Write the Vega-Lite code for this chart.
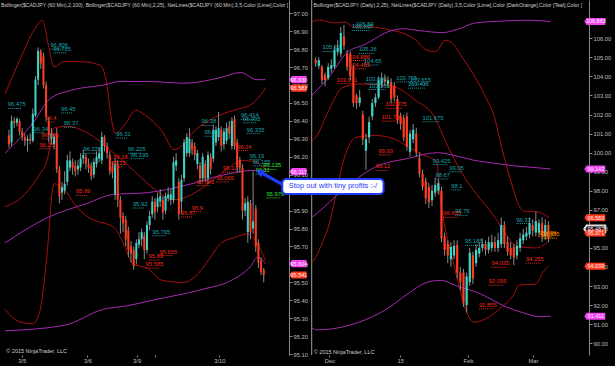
{
"$schema": "https://vega.github.io/schema/vega-lite/v6.json",
"background": "#000000",
"padding": {"left": 0, "top": 0, "right": 26, "bottom": 11},
"autosize": {"type": "none"},
"width": 589,
"height": 355,
"config": {
  "view": {"stroke": null, "fill": null},
  "axis": {"title": null, "grid": false, "labelFont": "Liberation Sans", "labelFontSize": 5.8, "labelColor": "#bebebe", "domainColor": "#8a8a8a", "tickColor": "#8a8a8a", "tickSize": 3, "labelPadding": 1, "labelOverlap": false, "labelFlush": false},
  "axisX": {"domain": false, "tickSize": 2, "labelPadding": 0},
  "text": {"font": "Liberation Sans"}
},
"datasets": {
  "L": [
    {"i":0,"o":96.32,"h":96.35,"l":96.25,"c":96.27},{"i":1,"o":96.28,"h":96.43,"l":96.26,"c":96.40},{"i":2,"o":96.40,"h":96.42,"l":96.36,"c":96.39},{"i":3,"o":96.39,"h":96.42,"l":96.37,"c":96.41},
    {"i":4,"o":96.40,"h":96.41,"l":96.32,"c":96.34},{"i":5,"o":96.34,"h":96.36,"l":96.29,"c":96.31},{"i":6,"o":96.31,"h":96.33,"l":96.26,"c":96.29},{"i":7,"o":96.29,"h":96.32,"l":96.23,"c":96.30},
    {"i":8,"o":96.30,"h":96.33,"l":96.27,"c":96.29},{"i":9,"o":96.29,"h":96.47,"l":96.28,"c":96.44},{"i":10,"o":96.43,"h":96.65,"l":96.42,"c":96.63},{"i":11,"o":96.63,"h":96.81,"l":96.60,"c":96.79},
    {"i":12,"o":96.79,"h":96.80,"l":96.69,"c":96.72},{"i":13,"o":96.76,"h":96.78,"l":96.58,"c":96.60},{"i":14,"o":96.60,"h":96.62,"l":96.40,"c":96.42},{"i":15,"o":96.40,"h":96.42,"l":96.28,"c":96.32},
    {"i":16,"o":96.30,"h":96.36,"l":96.27,"c":96.33},{"i":17,"o":96.27,"h":96.33,"l":96.24,"c":96.31},{"i":18,"o":96.33,"h":96.36,"l":96.11,"c":96.13},{"i":19,"o":96.13,"h":96.15,"l":95.94,"c":95.98},
    {"i":20,"o":96.00,"h":96.06,"l":95.96,"c":96.03},{"i":21,"o":96.01,"h":96.12,"l":95.99,"c":96.05},{"i":22,"o":96.06,"h":96.21,"l":96.04,"c":96.18},{"i":23,"o":96.14,"h":96.23,"l":96.12,"c":96.18},
    {"i":24,"o":96.17,"h":96.19,"l":96.10,"c":96.14},{"i":25,"o":96.15,"h":96.18,"l":96.09,"c":96.12},{"i":26,"o":96.13,"h":96.18,"l":96.10,"c":96.15},{"i":27,"o":96.14,"h":96.22,"l":96.12,"c":96.19},
    {"i":28,"o":96.19,"h":96.24,"l":96.16,"c":96.21},{"i":29,"o":96.20,"h":96.22,"l":96.13,"c":96.16},{"i":30,"o":96.16,"h":96.19,"l":96.11,"c":96.14},{"i":31,"o":96.15,"h":96.17,"l":96.07,"c":96.09},
    {"i":32,"o":96.10,"h":96.19,"l":96.08,"c":96.17},{"i":33,"o":96.16,"h":96.23,"l":96.14,"c":96.20},{"i":34,"o":96.19,"h":96.25,"l":96.17,"c":96.22},{"i":35,"o":96.18,"h":96.34,"l":96.16,"c":96.31},
    {"i":36,"o":96.31,"h":96.32,"l":96.23,"c":96.26},{"i":37,"o":96.26,"h":96.28,"l":96.19,"c":96.22},{"i":38,"o":96.21,"h":96.23,"l":96.10,"c":96.12},{"i":39,"o":96.14,"h":96.17,"l":96.08,"c":96.11},
    {"i":40,"o":95.99,"h":96.19,"l":95.96,"c":96.16},{"i":41,"o":96.16,"h":96.18,"l":95.92,"c":95.96},{"i":42,"o":95.96,"h":95.98,"l":95.77,"c":95.86},{"i":43,"o":95.87,"h":95.89,"l":95.78,"c":95.83},
    {"i":44,"o":95.85,"h":95.87,"l":95.70,"c":95.74},{"i":45,"o":95.79,"h":95.81,"l":95.64,"c":95.68},{"i":46,"o":95.70,"h":95.73,"l":95.61,"c":95.66},{"i":47,"o":95.68,"h":95.70,"l":95.57,"c":95.59},
    {"i":48,"o":95.63,"h":95.74,"l":95.60,"c":95.72},{"i":49,"o":95.71,"h":95.78,"l":95.69,"c":95.74},{"i":50,"o":95.74,"h":95.80,"l":95.70,"c":95.78},{"i":51,"o":95.76,"h":95.78,"l":95.63,"c":95.68},
    {"i":52,"o":95.68,"h":95.84,"l":95.66,"c":95.82},{"i":53,"o":95.82,"h":95.90,"l":95.79,"c":95.87},{"i":54,"o":95.88,"h":95.98,"l":95.86,"c":95.95},{"i":55,"o":95.95,"h":95.97,"l":95.85,"c":95.89},
    {"i":56,"o":95.92,"h":96.00,"l":95.89,"c":95.97},{"i":57,"o":95.95,"h":96.02,"l":95.92,"c":95.98},{"i":58,"o":95.96,"h":95.98,"l":95.85,"c":95.89},{"i":59,"o":95.90,"h":96.00,"l":95.88,"c":95.98},
    {"i":60,"o":95.97,"h":96.03,"l":95.95,"c":95.99},{"i":61,"o":95.96,"h":96.02,"l":95.93,"c":95.99},{"i":62,"o":95.96,"h":96.20,"l":95.94,"c":96.17},{"i":63,"o":96.15,"h":96.22,"l":96.12,"c":96.18},
    {"i":64,"o":96.06,"h":96.08,"l":95.85,"c":95.88},{"i":65,"o":95.95,"h":96.10,"l":95.88,"c":96.07},{"i":66,"o":96.08,"h":96.30,"l":96.06,"c":96.28},{"i":67,"o":96.22,"h":96.33,"l":96.20,"c":96.31},
    {"i":68,"o":96.22,"h":96.36,"l":96.20,"c":96.30},{"i":69,"o":96.28,"h":96.30,"l":96.21,"c":96.24},{"i":70,"o":96.26,"h":96.28,"l":96.18,"c":96.21},{"i":71,"o":96.16,"h":96.24,"l":96.13,"c":96.22},
    {"i":72,"o":96.15,"h":96.17,"l":96.05,"c":96.08},{"i":73,"o":96.08,"h":96.22,"l":96.06,"c":96.20},{"i":74,"o":96.16,"h":96.18,"l":96.06,"c":96.08},{"i":75,"o":96.08,"h":96.23,"l":96.05,"c":96.21},
    {"i":76,"o":96.20,"h":96.22,"l":96.10,"c":96.13},{"i":77,"o":96.19,"h":96.38,"l":96.17,"c":96.35},{"i":78,"o":96.28,"h":96.37,"l":96.26,"c":96.35},{"i":79,"o":96.31,"h":96.45,"l":96.29,"c":96.36},
    {"i":80,"o":96.35,"h":96.37,"l":96.23,"c":96.26},{"i":81,"o":96.27,"h":96.36,"l":96.24,"c":96.34},{"i":82,"o":96.29,"h":96.39,"l":96.27,"c":96.36},{"i":83,"o":96.37,"h":96.40,"l":96.30,"c":96.33},
    {"i":84,"o":96.26,"h":96.42,"l":96.24,"c":96.40},{"i":85,"o":96.41,"h":96.43,"l":96.24,"c":96.26},{"i":86,"o":96.28,"h":96.30,"l":96.11,"c":96.14},{"i":87,"o":96.18,"h":96.20,"l":96.11,"c":96.14},
    {"i":88,"o":96.14,"h":96.16,"l":95.85,"c":95.90},{"i":89,"o":95.90,"h":95.97,"l":95.87,"c":95.94},{"i":90,"o":95.78,"h":95.98,"l":95.72,"c":95.95},{"i":91,"o":95.94,"h":95.96,"l":95.74,"c":95.78},
    {"i":92,"o":95.80,"h":96.12,"l":95.77,"c":95.84},{"i":93,"o":95.91,"h":95.93,"l":95.67,"c":95.70},{"i":94,"o":95.72,"h":95.74,"l":95.58,"c":95.61},{"i":95,"o":95.62,"h":95.64,"l":95.54,"c":95.56},
    {"i":96,"o":95.57,"h":95.58,"l":95.50,"c":95.541}
  ],
  "R": [
    {"i":0,"o":104.86,"h":105.0,"l":104.5,"c":104.70},{"i":1,"o":104.55,"h":105.0,"l":104.4,"c":104.85},{"i":2,"o":104.51,"h":104.6,"l":103.6,"c":103.81},{"i":3,"o":104.07,"h":104.2,"l":103.5,"c":103.81},
    {"i":4,"o":103.90,"h":104.7,"l":103.8,"c":104.50},{"i":5,"o":104.40,"h":104.9,"l":104.2,"c":104.60},{"i":6,"o":104.50,"h":105.6,"l":104.4,"c":105.40},{"i":7,"o":105.30,"h":105.9,"l":105.1,"c":105.50},
    {"i":8,"o":105.20,"h":106.6,"l":105.0,"c":106.28},{"i":9,"o":106.10,"h":106.7,"l":105.4,"c":105.60},{"i":10,"o":105.20,"h":105.4,"l":104.3,"c":104.50},{"i":11,"o":105.20,"h":105.3,"l":103.8,"c":104.00},
    {"i":12,"o":104.50,"h":104.6,"l":102.4,"c":102.60},{"i":13,"o":103.00,"h":103.1,"l":102.3,"c":102.60},{"i":14,"o":102.60,"h":103.3,"l":102.4,"c":102.90},{"i":15,"o":102.00,"h":102.2,"l":100.4,"c":100.70},
    {"i":16,"o":100.10,"h":101.0,"l":99.1,"c":100.70},{"i":17,"o":100.80,"h":101.9,"l":100.5,"c":101.60},{"i":18,"o":101.90,"h":102.8,"l":101.7,"c":102.60},{"i":19,"o":102.60,"h":103.1,"l":102.4,"c":102.90},
    {"i":20,"o":102.90,"h":104.0,"l":102.8,"c":103.80},{"i":21,"o":103.60,"h":104.2,"l":103.4,"c":103.90},{"i":22,"o":103.90,"h":104.1,"l":103.5,"c":103.70},{"i":23,"o":103.60,"h":104.0,"l":103.4,"c":103.80},
    {"i":24,"o":103.70,"h":103.9,"l":102.6,"c":102.80},{"i":25,"o":103.50,"h":103.7,"l":102.7,"c":102.90},{"i":26,"o":102.80,"h":103.0,"l":101.5,"c":101.70},{"i":27,"o":101.90,"h":102.1,"l":101.2,"c":101.50},
    {"i":28,"o":101.80,"h":102.0,"l":100.6,"c":100.80},{"i":29,"o":101.90,"h":102.1,"l":100.1,"c":100.30},{"i":30,"o":100.04,"h":101.2,"l":99.8,"c":101.00},{"i":31,"o":100.70,"h":101.5,"l":100.5,"c":101.20},
    {"i":32,"o":101.00,"h":101.3,"l":99.8,"c":100.00},{"i":33,"o":99.70,"h":100.0,"l":98.7,"c":98.90},{"i":34,"o":98.90,"h":99.1,"l":98.0,"c":98.20},{"i":35,"o":98.50,"h":98.7,"l":97.3,"c":97.60},
    {"i":36,"o":98.20,"h":98.4,"l":97.1,"c":97.40},{"i":37,"o":97.50,"h":98.3,"l":97.2,"c":98.00},{"i":38,"o":97.90,"h":98.7,"l":97.7,"c":98.30},{"i":39,"o":98.00,"h":98.6,"l":97.8,"c":98.40},
    {"i":40,"o":98.00,"h":98.2,"l":95.3,"c":95.50},{"i":41,"o":95.60,"h":95.8,"l":94.6,"c":94.90},{"i":42,"o":95.20,"h":95.4,"l":94.2,"c":94.60},{"i":43,"o":94.40,"h":95.3,"l":94.0,"c":95.05},
    {"i":44,"o":94.60,"h":95.4,"l":94.4,"c":95.10},{"i":45,"o":95.15,"h":95.4,"l":93.4,"c":93.70},{"i":46,"o":93.70,"h":94.0,"l":92.8,"c":93.20},{"i":47,"o":93.70,"h":93.9,"l":91.9,"c":92.10},
    {"i":48,"o":92.00,"h":93.7,"l":91.6,"c":93.50},{"i":49,"o":93.20,"h":95.0,"l":93.0,"c":94.75},{"i":50,"o":94.60,"h":94.8,"l":93.1,"c":93.40},{"i":51,"o":94.20,"h":95.2,"l":94.0,"c":94.90},
    {"i":52,"o":94.70,"h":95.3,"l":94.5,"c":95.00},{"i":53,"o":95.00,"h":95.5,"l":94.8,"c":95.20},{"i":54,"o":95.20,"h":95.4,"l":94.6,"c":94.90},{"i":55,"o":94.90,"h":95.6,"l":94.7,"c":95.30},
    {"i":56,"o":95.00,"h":95.7,"l":94.8,"c":95.30},{"i":57,"o":95.30,"h":95.6,"l":94.8,"c":95.00},{"i":58,"o":95.00,"h":95.8,"l":94.8,"c":95.40},{"i":59,"o":95.20,"h":96.6,"l":95.0,"c":96.20},
    {"i":60,"o":96.20,"h":96.4,"l":95.0,"c":95.20},{"i":61,"o":95.30,"h":95.6,"l":94.6,"c":94.80},{"i":62,"o":95.00,"h":95.3,"l":94.4,"c":94.60},{"i":63,"o":95.05,"h":95.2,"l":94.1,"c":94.50},
    {"i":64,"o":94.60,"h":95.4,"l":94.4,"c":95.10},{"i":65,"o":95.00,"h":95.8,"l":94.8,"c":95.50},{"i":66,"o":95.40,"h":96.0,"l":95.2,"c":95.70},{"i":67,"o":95.60,"h":96.1,"l":95.4,"c":95.80},
    {"i":68,"o":95.70,"h":96.6,"l":95.5,"c":96.30},{"i":69,"o":96.20,"h":96.5,"l":95.6,"c":95.90},{"i":70,"o":95.80,"h":96.9,"l":95.6,"c":96.40},{"i":71,"o":95.80,"h":96.5,"l":95.6,"c":96.30},
    {"i":72,"o":96.30,"h":96.6,"l":95.3,"c":95.60},{"i":73,"o":95.60,"h":96.5,"l":95.4,"c":96.20},{"i":74,"o":96.20,"h":96.4,"l":95.3,"c":95.49}
  ],
  "LB": [
    {"s":"ru","i":-1.48,"v":96.55},{"s":"ru","i":4.1,"v":96.74},{"s":"ru","i":9.6,"v":96.91},{"s":"ru","i":12.6,"v":96.96},{"s":"ru","i":15.2,"v":96.80},{"s":"ru","i":17,"v":96.70},{"s":"ru","i":20.7,"v":96.73},{"s":"ru","i":27.4,"v":96.73},{"s":"ru","i":34.4,"v":96.71},{"s":"ru","i":36.7,"v":96.62},{"s":"ru","i":38.5,"v":96.42},{"s":"ru","i":40,"v":96.33},{"s":"ru","i":43.7,"v":96.38},{"s":"ru","i":47.8,"v":96.46},{"s":"ru","i":50.4,"v":96.44},{"s":"ru","i":57.8,"v":96.34},{"s":"ru","i":62.2,"v":96.24},{"s":"ru","i":65.2,"v":96.26},{"s":"ru","i":68.9,"v":96.33},{"s":"ru","i":75.2,"v":96.40},{"s":"ru","i":82.6,"v":96.45},{"s":"ru","i":87.4,"v":96.47},{"s":"ru","i":91.1,"v":96.49},{"s":"ru","i":94.1,"v":96.53},{"s":"ru","i":96.7,"v":96.585},
    {"s":"rm","i":-1.48,"v":95.92},{"s":"rm","i":5.9,"v":95.99},{"s":"rm","i":11.5,"v":96.10},{"s":"rm","i":14.4,"v":96.18},{"s":"rm","i":17,"v":96.36},{"s":"rm","i":22,"v":96.37},{"s":"rm","i":30,"v":96.33},{"s":"rm","i":38,"v":96.24},{"s":"rm","i":45,"v":96.15},{"s":"rm","i":54,"v":96.03},{"s":"rm","i":62,"v":95.96},{"s":"rm","i":69,"v":95.99},{"s":"rm","i":75,"v":96.05},{"s":"rm","i":82,"v":96.13},{"s":"rm","i":88,"v":96.18},{"s":"rm","i":93,"v":96.17},{"s":"rm","i":96.7,"v":96.13},
    {"s":"rl","i":-1.48,"v":95.35},{"s":"rl","i":4,"v":95.28},{"s":"rl","i":9,"v":95.27},{"s":"rl","i":11.5,"v":95.33},{"s":"rl","i":14,"v":95.60},{"s":"rl","i":17,"v":96.05},{"s":"rl","i":20.7,"v":96.02},{"s":"rl","i":25,"v":95.93},{"s":"rl","i":33,"v":95.84},{"s":"rl","i":36,"v":95.83},{"s":"rl","i":40,"v":95.80},{"s":"rl","i":43,"v":95.72},{"s":"rl","i":47,"v":95.60},{"s":"rl","i":52,"v":95.58},{"s":"rl","i":58,"v":95.51},{"s":"rl","i":66,"v":95.50},{"s":"rl","i":70,"v":95.53},{"s":"rl","i":75,"v":95.62},{"s":"rl","i":80,"v":95.72},{"s":"rl","i":85,"v":95.75},{"s":"rl","i":90,"v":95.77},{"s":"rl","i":93,"v":95.73},{"s":"rl","i":96.7,"v":95.62},
    {"s":"pu","i":-1.48,"v":96.22},{"s":"pu","i":9.6,"v":96.40},{"s":"pu","i":15.2,"v":96.52},{"s":"pu","i":23.3,"v":96.57},{"s":"pu","i":35.6,"v":96.60},{"s":"pu","i":41.9,"v":96.62},{"s":"pu","i":52.2,"v":96.62},{"s":"pu","i":66.3,"v":96.61},{"s":"pu","i":79.3,"v":96.64},{"s":"pu","i":87.4,"v":96.67},{"s":"pu","i":93.3,"v":96.63},{"s":"pu","i":96.7,"v":96.63},
    {"s":"pm","i":-1.48,"v":95.72},{"s":"pm","i":14.4,"v":95.86},{"s":"pm","i":29.3,"v":95.94},{"s":"pm","i":39.3,"v":95.99},{"s":"pm","i":52.2,"v":96.00},{"s":"pm","i":68.9,"v":96.05},{"s":"pm","i":81.1,"v":96.10},{"s":"pm","i":92.9,"v":96.125},{"s":"pm","i":96.7,"v":96.117},
    {"s":"pl","i":-1.48,"v":95.23},{"s":"pl","i":20.7,"v":95.26},{"s":"pl","i":35.6,"v":95.35},{"s":"pl","i":44.8,"v":95.37},{"s":"pl","i":54,"v":95.40},{"s":"pl","i":72.6,"v":95.46},{"s":"pl","i":83.7,"v":95.51},{"s":"pl","i":91.1,"v":95.59},{"s":"pl","i":93.7,"v":95.64},{"s":"pl","i":96.7,"v":95.604}
  ],
  "RB": [
    {"s":"ru","i":-1.25,"v":106.85},{"s":"ru","i":1.25,"v":106.96},{"s":"ru","i":5.9,"v":106.80},{"s":"ru","i":9.1,"v":106.86},{"s":"ru","i":12.2,"v":106.60},{"s":"ru","i":17.5,"v":106.60},{"s":"ru","i":23.75,"v":106.43},{"s":"ru","i":27.8,"v":106.27},{"s":"ru","i":31.9,"v":105.90},{"s":"ru","i":35,"v":105.40},{"s":"ru","i":38.1,"v":105.30},{"s":"ru","i":41.25,"v":105.90},{"s":"ru","i":43.4,"v":105.75},{"s":"ru","i":46.6,"v":105.00},{"s":"ru","i":51.25,"v":103.8},{"s":"ru","i":54.4,"v":102.8},{"s":"ru","i":56.6,"v":102.0},{"s":"ru","i":59.1,"v":100.3},{"s":"ru","i":62.8,"v":98.1},{"s":"ru","i":64.7,"v":97.2},{"s":"ru","i":66.9,"v":96.9},{"s":"ru","i":70,"v":96.9},{"s":"ru","i":72.2,"v":96.8},{"s":"ru","i":74.1,"v":96.583},
    {"s":"rm","i":-1.25,"v":100.6},{"s":"rm","i":0,"v":100.8},{"s":"rm","i":4.4,"v":102.3},{"s":"rm","i":8.4,"v":103.4},{"s":"rm","i":13.75,"v":103.6},{"s":"rm","i":24,"v":103.5},{"s":"rm","i":27.2,"v":103.3},{"s":"rm","i":31.6,"v":102.76},{"s":"rm","i":37.8,"v":101.87},{"s":"rm","i":41.25,"v":100.6},{"s":"rm","i":46.6,"v":98.9},{"s":"rm","i":51.25,"v":97.8},{"s":"rm","i":56.6,"v":96.7},{"s":"rm","i":60.6,"v":95.7},{"s":"rm","i":63.75,"v":95.1},{"s":"rm","i":70,"v":95.0},{"s":"rm","i":74.1,"v":95.371},
    {"s":"rl","i":-1.25,"v":94.2},{"s":"rl","i":0,"v":94.5},{"s":"rl","i":2.2,"v":95.3},{"s":"rl","i":4.4,"v":96.3},{"s":"rl","i":6.6,"v":97.9},{"s":"rl","i":8.4,"v":99.3},{"s":"rl","i":9.7,"v":100.0},{"s":"rl","i":12.8,"v":100.8},{"s":"rl","i":19,"v":100.9},{"s":"rl","i":25.3,"v":100.7},{"s":"rl","i":29.4,"v":100.3},{"s":"rl","i":34,"v":99.9},{"s":"rl","i":38.4,"v":99.5},{"s":"rl","i":39.7,"v":97.5},{"s":"rl","i":41.9,"v":95.5},{"s":"rl","i":43.4,"v":94.5},{"s":"rl","i":45.9,"v":92.8},{"s":"rl","i":48.1,"v":91.6},{"s":"rl","i":50.3,"v":91.1},{"s":"rl","i":55.3,"v":91.4},{"s":"rl","i":59.1,"v":91.9},{"s":"rl","i":62.8,"v":92.5},{"s":"rl","i":64.7,"v":93.05},{"s":"rl","i":70,"v":93.1},{"s":"rl","i":72.2,"v":93.7},{"s":"rl","i":74.1,"v":94.04},
    {"s":"pu","i":-1.25,"v":103.0},{"s":"pu","i":4.4,"v":104.0},{"s":"pu","i":9.7,"v":105.2},{"s":"pu","i":15.9,"v":105.7},{"s":"pu","i":24,"v":106.4},{"s":"pu","i":27.8,"v":106.5},{"s":"pu","i":33.1,"v":106.4},{"s":"pu","i":40.3,"v":106.3},{"s":"pu","i":45.6,"v":106.5},{"s":"pu","i":50.6,"v":106.8},{"s":"pu","i":59.1,"v":106.9},{"s":"pu","i":67.5,"v":106.95},{"s":"pu","i":74.7,"v":106.88},
    {"s":"pm","i":-1.25,"v":96.6},{"s":"pm","i":0.3,"v":96.8},{"s":"pm","i":8.4,"v":98.0},{"s":"pm","i":19,"v":99.25},{"s":"pm","i":29.4,"v":99.7},{"s":"pm","i":38.75,"v":100.0},{"s":"pm","i":42.8,"v":99.9},{"s":"pm","i":50.3,"v":99.6},{"s":"pm","i":56.6,"v":99.45},{"s":"pm","i":63.75,"v":99.3},{"s":"pm","i":70.9,"v":99.2},{"s":"pm","i":74.7,"v":99.142},
    {"s":"pl","i":-1.25,"v":90.8},{"s":"pl","i":0.3,"v":90.7},{"s":"pl","i":13.75,"v":91.1},{"s":"pl","i":22.2,"v":91.75},{"s":"pl","i":29.4,"v":92.6},{"s":"pl","i":34.7,"v":93.15},{"s":"pl","i":39.7,"v":93.3},{"s":"pl","i":45,"v":93.0},{"s":"pl","i":52.2,"v":92.6},{"s":"pl","i":60.6,"v":91.9},{"s":"pl","i":65.9,"v":91.6},{"s":"pl","i":70.9,"v":91.4},{"s":"pl","i":74.7,"v":91.411}
  ],
  "LN": [
    {"i":15.6,"ie":20.8,"v":96.806,"t":"96.806","k":"t"},{"i":16.7,"ie":21.9,"v":96.785,"t":"96.785","k":"t"},{"i":-0.4,"ie":4.8,"v":96.475,"t":"96.475","k":"t"},{"i":19.6,"ie":24.0,"v":96.45,"t":"96.45","k":"t"},
    {"i":13.7,"ie":17.4,"v":96.4,"t":"96.4","k":"r"},{"i":20.7,"ie":25.1,"v":96.37,"t":"96.37","k":"t"},{"i":9.3,"ie":13.7,"v":96.34,"t":"96.34","k":"t"},{"i":12.2,"ie":17.4,"v":96.305,"t":"96.305","k":"r"},
    {"i":11.5,"ie":15.9,"v":96.25,"t":"96.25","k":"r"},{"i":40.4,"ie":44.8,"v":96.31,"t":"96.31","k":"t"},{"i":28.1,"ie":33.3,"v":96.225,"t":"96.225","k":"t"},{"i":44.8,"ie":50.0,"v":96.225,"t":"96.225","k":"t"},
    {"i":45.9,"ie":51.1,"v":96.195,"t":"96.195","k":"t"},{"i":39.3,"ie":43.7,"v":96.18,"t":"96.18","k":"r"},{"i":38.5,"ie":42.9,"v":96.15,"t":"96.15","k":"r"},{"i":25.2,"ie":29.6,"v":95.99,"t":"95.99","k":"r"},
    {"i":46.7,"ie":51.1,"v":95.92,"t":"95.92","k":"t"},{"i":87.4,"ie":92.6,"v":96.414,"t":"96.414","k":"t"},{"i":88.1,"ie":93.3,"v":96.395,"t":"96.395","k":"t"},{"i":72.6,"ie":77.0,"v":96.38,"t":"96.38","k":"t"},
    {"i":89.6,"ie":94.8,"v":96.335,"t":"96.335","k":"t"},{"i":73.7,"ie":78.1,"v":96.32,"t":"96.32","k":"t"},{"i":85.9,"ie":90.3,"v":96.24,"t":"96.24","k":"r"},{"i":90.7,"ie":95.1,"v":96.19,"t":"96.19","k":"t"},
    {"i":91.9,"ie":97.1,"v":96.155,"t":"96.155","k":"t"},{"i":80.7,"ie":85.1,"v":96.12,"t":"96.12","k":"r"},{"i":78.1,"ie":83.3,"v":96.065,"t":"96.065","k":"r"},{"i":70.7,"ie":75.9,"v":96.045,"t":"96.045","k":"r"},
    {"i":95.9,"ie":101.1,"v":96.135,"t":"96.135","k":"g"},{"i":93.0,"ie":97.4,"v":96.11,"t":"96.11","k":"g"},{"i":97.0,"ie":102.2,"v":95.976,"t":"95.976","k":"g"},{"i":68.9,"ie":72.6,"v":95.9,"t":"95.9","k":"r"},
    {"i":64.8,"ie":69.2,"v":95.87,"t":"95.87","k":"r"},{"i":54.1,"ie":59.3,"v":95.765,"t":"95.765","k":"t"},{"i":52.6,"ie":57.0,"v":95.63,"t":"95.63","k":"r"},{"i":56.7,"ie":61.9,"v":95.655,"t":"95.655","k":"r"},
    {"i":51.5,"ie":56.7,"v":95.585,"t":"95.585","k":"r"}
  ],
  "RN": [
    {"i":12.8,"ie":17.5,"v":106.59,"t":"106.59","k":"t"},{"i":11.6,"ie":16.9,"v":106.465,"t":"106.465","k":"t"},{"i":2.2,"ie":6.9,"v":105.36,"t":"105.36","k":"t"},{"i":13.75,"ie":18.4,"v":105.26,"t":"105.26","k":"t"},
    {"i":10.6,"ie":15.9,"v":104.886,"t":"104.886","k":"r"},{"i":10.6,"ie":15.9,"v":104.455,"t":"104.455","k":"r"},{"i":15.3,"ie":20.0,"v":104.65,"t":"104.65","k":"t"},{"i":6.6,"ie":11.9,"v":103.671,"t":"103.671","k":"r"},
    {"i":15.9,"ie":21.2,"v":103.696,"t":"103.696","k":"t"},{"i":16.9,"ie":22.2,"v":103.365,"t":"103.365","k":"t"},{"i":25.6,"ie":30.9,"v":103.765,"t":"103.765","k":"t"},{"i":30.0,"ie":35.3,"v":103.655,"t":"103.655","k":"t"},
    {"i":29.4,"ie":34.7,"v":103.436,"t":"103.436","k":"t"},{"i":22.2,"ie":27.5,"v":102.375,"t":"102.375","k":"r"},{"i":20.9,"ie":26.2,"v":101.706,"t":"101.706","k":"r"},{"i":34.0,"ie":39.3,"v":101.675,"t":"101.675","k":"t"},
    {"i":20.0,"ie":24.0,"v":99.93,"t":"99.93","k":"r"},{"i":19.1,"ie":23.1,"v":99.12,"t":"99.12","k":"r"},{"i":37.2,"ie":41.9,"v":99.425,"t":"99.425","k":"t"},{"i":42.5,"ie":46.5,"v":99.05,"t":"99.05","k":"t"},
    {"i":38.1,"ie":42.1,"v":98.67,"t":"98.67","k":"t"},{"i":43.1,"ie":46.0,"v":98.1,"t":"98.1","k":"t"},{"i":40.6,"ie":45.3,"v":96.655,"t":"96.655","k":"r"},{"i":44.4,"ie":48.4,"v":96.76,"t":"96.76","k":"t"},
    {"i":47.5,"ie":52.2,"v":95.185,"t":"95.185","k":"t"},{"i":63.75,"ie":67.8,"v":96.33,"t":"96.33","k":"t"},{"i":55.9,"ie":60.6,"v":94.035,"t":"94.035","k":"r"},{"i":66.9,"ie":71.6,"v":94.255,"t":"94.255","k":"r"},
    {"i":55.0,"ie":59.7,"v":93.095,"t":"93.095","k":"r"},{"i":51.9,"ie":56.6,"v":91.855,"t":"91.855","k":"r"},{"i":70.9,"ie":75.6,"v":95.636,"t":"95.636","k":"o"},{"i":71.9,"ie":76.6,"v":95.555,"t":"95.555","k":"o"}
  ],
  "LG": [{"i":22.2},{"i":47.8},{"i":72.6}],
  "LT": [
    {"i":108.9,"v":96.630,"t":"96.630","k":"m"},{"i":108.9,"v":96.583,"t":"96.583","k":"r"},{"i":108.9,"v":96.117,"t":"96.117","k":"m"},{"i":108.9,"v":95.604,"t":"95.604","k":"m"},{"i":108.9,"v":95.541,"t":"95.541","k":"r"}
  ],
  "RT": [
    {"i":88.75,"v":106.883,"t":"106.883","k":"m"},{"i":88.75,"v":99.142,"t":"99.142","k":"m"},{"i":88.75,"v":96.583,"t":"96.583","k":"r"},{"i":88.75,"v":95.99,"t":"95.487","k":"b"},{"i":88.75,"v":95.78,"t":"95.371","k":"r"},{"i":88.75,"v":94.039,"t":"94.039","k":"r"},{"i":88.75,"v":91.411,"t":"91.411","k":"m"}
  ],
  "LTT": [{"i":105.2,"v":97.046,"t":"Bollinger($CADJPY (60 Min),2,100), Bollinger($CADJPY (60 Min),2,25), NetLines($CADJPY (60 Min),3,5,Color [Lime],Color ["}],
  "LCR": [{"i":-1.0,"v":95.115,"t":"© 2015 NinjaTrader, LLC"}],
  "RTT": [{"i":84.7,"v":107.75,"t":"Bollinger($CADJPY (Daily),2,25), NetLines($CADJPY (Daily),3,5,Color [Lime],Color [DarkOrange],Color [Teal],Color ["}],
  "RCR": [{"i":-0.6,"v":89.55,"t":"© 2015 NinjaTrader, LLC"}],
  "RBD": [{"i":-1.25,"v":108.01,"ve":89.38}],
  "ARW": [{"i":-10.3,"ie":-16.9,"v":98.31,"ve":98.91}],
  "AHD": [{"i":-17.9,"v":98.97}],
  "BOX": [{"i":-10.6,"ie":21.6,"v":98.62,"ve":97.83}],
  "BTX": [{"i":5.5,"v":98.23,"t":"Stop out with tiny profits :-/"}]
},
"resolve": {"scale": {"x": "independent", "y": "independent"}, "axis": {"x": "independent", "y": "independent"}},
"layer": [
  {
    "encoding": {
      "x": {"field": "i", "type": "quantitative", "scale": {"domain": [-1.4815, 216.667], "nice": false, "zero": false}, "axis": {"orient": "bottom", "values": [4.8, 29.6, 48.1, 55.2, 79.3], "labelExpr": "datum.value < 10 ? '3/5' : datum.value < 40 ? '3/6' : datum.value < 50 ? '3/9' : datum.value < 60 ? '' : '3/10'"}},
      "y": {"field": "v", "type": "quantitative", "scale": {"domain": [95.095, 97.074], "nice": false, "zero": false}, "axis": {"orient": "right", "offset": -300, "values": [95.1,95.2,95.3,95.4,95.5,95.6,95.7,95.8,95.9,96.0,96.1,96.2,96.3,96.4,96.5,96.6,96.7,96.8,96.9,97.0], "format": ".2f"}}
    },
    "layer": [
      {"data": {"name": "LG"}, "mark": {"type": "rule", "color": "#3a3a3a", "strokeWidth": 1}, "encoding": {"y": {"datum": 97.074}, "y2": {"datum": 95.095}}},
      {"data": {"name": "LB"}, "mark": {"type": "line", "strokeWidth": 1, "interpolate": "monotone"}, "encoding": {"stroke": {"field": "s", "type": "nominal", "scale": {"domain": ["ru","rm","rl","pu","pm","pl"], "range": ["#a8120e","#a8120e","#a8120e","#a52bb0","#a52bb0","#a52bb0"]}, "legend": null}}},
      {"data": {"name": "L"}, "mark": {"type": "rule", "color": "#8c8c8c", "strokeWidth": 1}, "encoding": {"y": {"field": "l", "type": "quantitative", "scale": {"domain": [95.095, 97.074], "nice": false, "zero": false}, "axis": {"orient": "right", "offset": -300, "values": [95.1,95.2,95.3,95.4,95.5,95.6,95.7,95.8,95.9,96.0,96.1,96.2,96.3,96.4,96.5,96.6,96.7,96.8,96.9,97.0], "format": ".2f"}}, "y2": {"field": "h"}}},
      {"data": {"name": "L"}, "mark": {"type": "bar", "size": 2}, "encoding": {"y": {"field": "o", "type": "quantitative", "scale": {"domain": [95.095, 97.074], "nice": false, "zero": false}, "axis": {"orient": "right", "offset": -300, "values": [95.1,95.2,95.3,95.4,95.5,95.6,95.7,95.8,95.9,96.0,96.1,96.2,96.3,96.4,96.5,96.6,96.7,96.8,96.9,97.0], "format": ".2f"}}, "y2": {"field": "c"}, "color": {"condition": {"test": "datum.c >= datum.o", "value": "#3fd6c9"}, "value": "#ff3d1f"}}},
      {"data": {"name": "LN"}, "mark": {"type": "rule", "strokeDash": [1, 1], "strokeWidth": 1, "yOffset": 1}, "encoding": {"x2": {"field": "ie"}, "color": {"field": "k", "type": "nominal", "scale": {"domain": ["t","r","g","o"], "range": ["#1aa3a8","#f0281a","#2ee02e","#ff8c00"]}, "legend": null}}},
      {"data": {"name": "LN"}, "mark": {"type": "text", "align": "left", "baseline": "bottom", "fontSize": 5.8, "font": "Liberation Sans Narrow, Liberation Sans, sans-serif"}, "encoding": {"text": {"field": "t"}, "color": {"field": "k", "type": "nominal", "scale": {"domain": ["t","r","g","o"], "range": ["#1aa3a8","#f0281a","#2ee02e","#ff8c00"]}, "legend": null}}},
      {"data": {"name": "LT"}, "mark": {"type": "point", "filled": true, "opacity": 1, "size": 289, "shape": "M-1,0L-0.72,-0.42L1,-0.42L1,0.42L-0.72,0.42Z"}, "encoding": {"fill": {"field": "k", "type": "nominal", "scale": {"domain": ["m","r","b"], "range": ["#f044f0","#ff3c1e","#000000"]}, "legend": null}}},
      {"data": {"name": "LT"}, "mark": {"type": "text", "align": "center", "baseline": "middle", "fontSize": 5.5, "color": "#ffeeff", "dx": 1}, "encoding": {"text": {"field": "t"}}},
      {"data": {"name": "LTT"}, "mark": {"type": "text", "align": "right", "baseline": "middle", "fontSize": 5.2, "color": "#cfcfcf"}, "encoding": {"text": {"field": "t"}}},
      {"data": {"name": "LCR"}, "mark": {"type": "text", "align": "left", "baseline": "middle", "fontSize": 5.5, "color": "#cfcfcf"}, "encoding": {"text": {"field": "t"}}}
    ]
  },
  {
    "encoding": {
      "x": {"field": "i", "type": "quantitative", "scale": {"domain": [-98.75, 85.3125], "nice": false, "zero": false}, "axis": {"orient": "bottom", "values": [4.375, 26.9, 48.4, 69.1], "labelExpr": "datum.value < 10 ? 'Dec' : datum.value < 30 ? '15' : datum.value < 60 ? 'Feb' : 'Mar'"}},
      "y": {"field": "v", "type": "quantitative", "scale": {"domain": [89.38, 108.01], "nice": false, "zero": false}, "axis": {"orient": "right", "values": [90,91,92,93,94,95,96,97,98,99,100,101,102,103,104,105,106], "format": ".2f"}}
    },
    "layer": [
      {"data": {"name": "RBD"}, "mark": {"type": "rule", "color": "#a0a0a0", "strokeWidth": 1}, "encoding": {"y2": {"field": "ve"}}},
      {"data": {"name": "RB"}, "mark": {"type": "line", "strokeWidth": 1, "interpolate": "monotone"}, "encoding": {"stroke": {"field": "s", "type": "nominal", "scale": {"domain": ["ru","rm","rl","pu","pm","pl"], "range": ["#a8120e","#a8120e","#a8120e","#a52bb0","#a52bb0","#a52bb0"]}, "legend": null}}},
      {"data": {"name": "R"}, "mark": {"type": "rule", "color": "#8c8c8c", "strokeWidth": 1}, "encoding": {"y": {"field": "l", "type": "quantitative", "scale": {"domain": [89.38, 108.01], "nice": false, "zero": false}, "axis": {"orient": "right", "values": [90,91,92,93,94,95,96,97,98,99,100,101,102,103,104,105,106], "format": ".2f"}}, "y2": {"field": "h"}}},
      {"data": {"name": "R"}, "mark": {"type": "bar", "size": 2.2}, "encoding": {"y": {"field": "o", "type": "quantitative", "scale": {"domain": [89.38, 108.01], "nice": false, "zero": false}, "axis": {"orient": "right", "values": [90,91,92,93,94,95,96,97,98,99,100,101,102,103,104,105,106], "format": ".2f"}}, "y2": {"field": "c"}, "color": {"condition": {"test": "datum.c >= datum.o", "value": "#3fd6c9"}, "value": "#ff3d1f"}}},
      {"data": {"name": "RN"}, "mark": {"type": "rule", "strokeDash": [1, 1], "strokeWidth": 1, "yOffset": 1}, "encoding": {"x2": {"field": "ie"}, "color": {"field": "k", "type": "nominal", "scale": {"domain": ["t","r","g","o"], "range": ["#1aa3a8","#f0281a","#2ee02e","#ff8c00"]}, "legend": null}}},
      {"data": {"name": "RN"}, "mark": {"type": "text", "align": "left", "baseline": "bottom", "fontSize": 5.8, "font": "Liberation Sans Narrow, Liberation Sans, sans-serif"}, "encoding": {"text": {"field": "t"}, "color": {"field": "k", "type": "nominal", "scale": {"domain": ["t","r","g","o"], "range": ["#1aa3a8","#f0281a","#2ee02e","#ff8c00"]}, "legend": null}}},
      {"data": {"name": "RT"}, "mark": {"type": "point", "filled": true, "opacity": 1, "size": 441, "shape": "M-1,0L-0.78,-0.34L1,-0.34L1,0.34L-0.78,0.34Z"}, "encoding": {"fill": {"field": "k", "type": "nominal", "scale": {"domain": ["m","r","b"], "range": ["#f044f0","#ff3c1e","#000000"]}, "legend": null}, "stroke": {"condition": {"test": "datum.k === 'b'", "value": "#e0e0e0"}, "value": null}}},
      {"data": {"name": "RT"}, "mark": {"type": "text", "align": "center", "baseline": "middle", "fontSize": 5.5, "color": "#ffeeff", "dx": 1}, "encoding": {"text": {"field": "t"}}},
      {"data": {"name": "RTT"}, "mark": {"type": "text", "align": "right", "baseline": "middle", "fontSize": 5.2, "color": "#cfcfcf"}, "encoding": {"text": {"field": "t"}}},
      {"data": {"name": "RCR"}, "mark": {"type": "text", "align": "left", "baseline": "middle", "fontSize": 5.5, "color": "#cfcfcf"}, "encoding": {"text": {"field": "t"}}},
      {"data": {"name": "ARW"}, "mark": {"type": "rule", "color": "#1f3cff", "strokeWidth": 3.2}, "encoding": {"x2": {"field": "ie"}, "y2": {"field": "ve"}}},
      {"data": {"name": "AHD"}, "mark": {"type": "point", "shape": "triangle-up", "filled": true, "opacity": 1, "color": "#1f3cff", "size": 70, "angle": 293}},
      {"data": {"name": "BOX"}, "mark": {"type": "rect", "fill": "#ffffff", "stroke": "#1f3cff", "strokeWidth": 2, "cornerRadius": 4}, "encoding": {"x2": {"field": "ie"}, "y2": {"field": "ve"}}},
      {"data": {"name": "BTX"}, "mark": {"type": "text", "align": "center", "baseline": "middle", "fontSize": 7.5, "color": "#1f3cff"}, "encoding": {"text": {"field": "t"}}}
    ]
  }
]
}
